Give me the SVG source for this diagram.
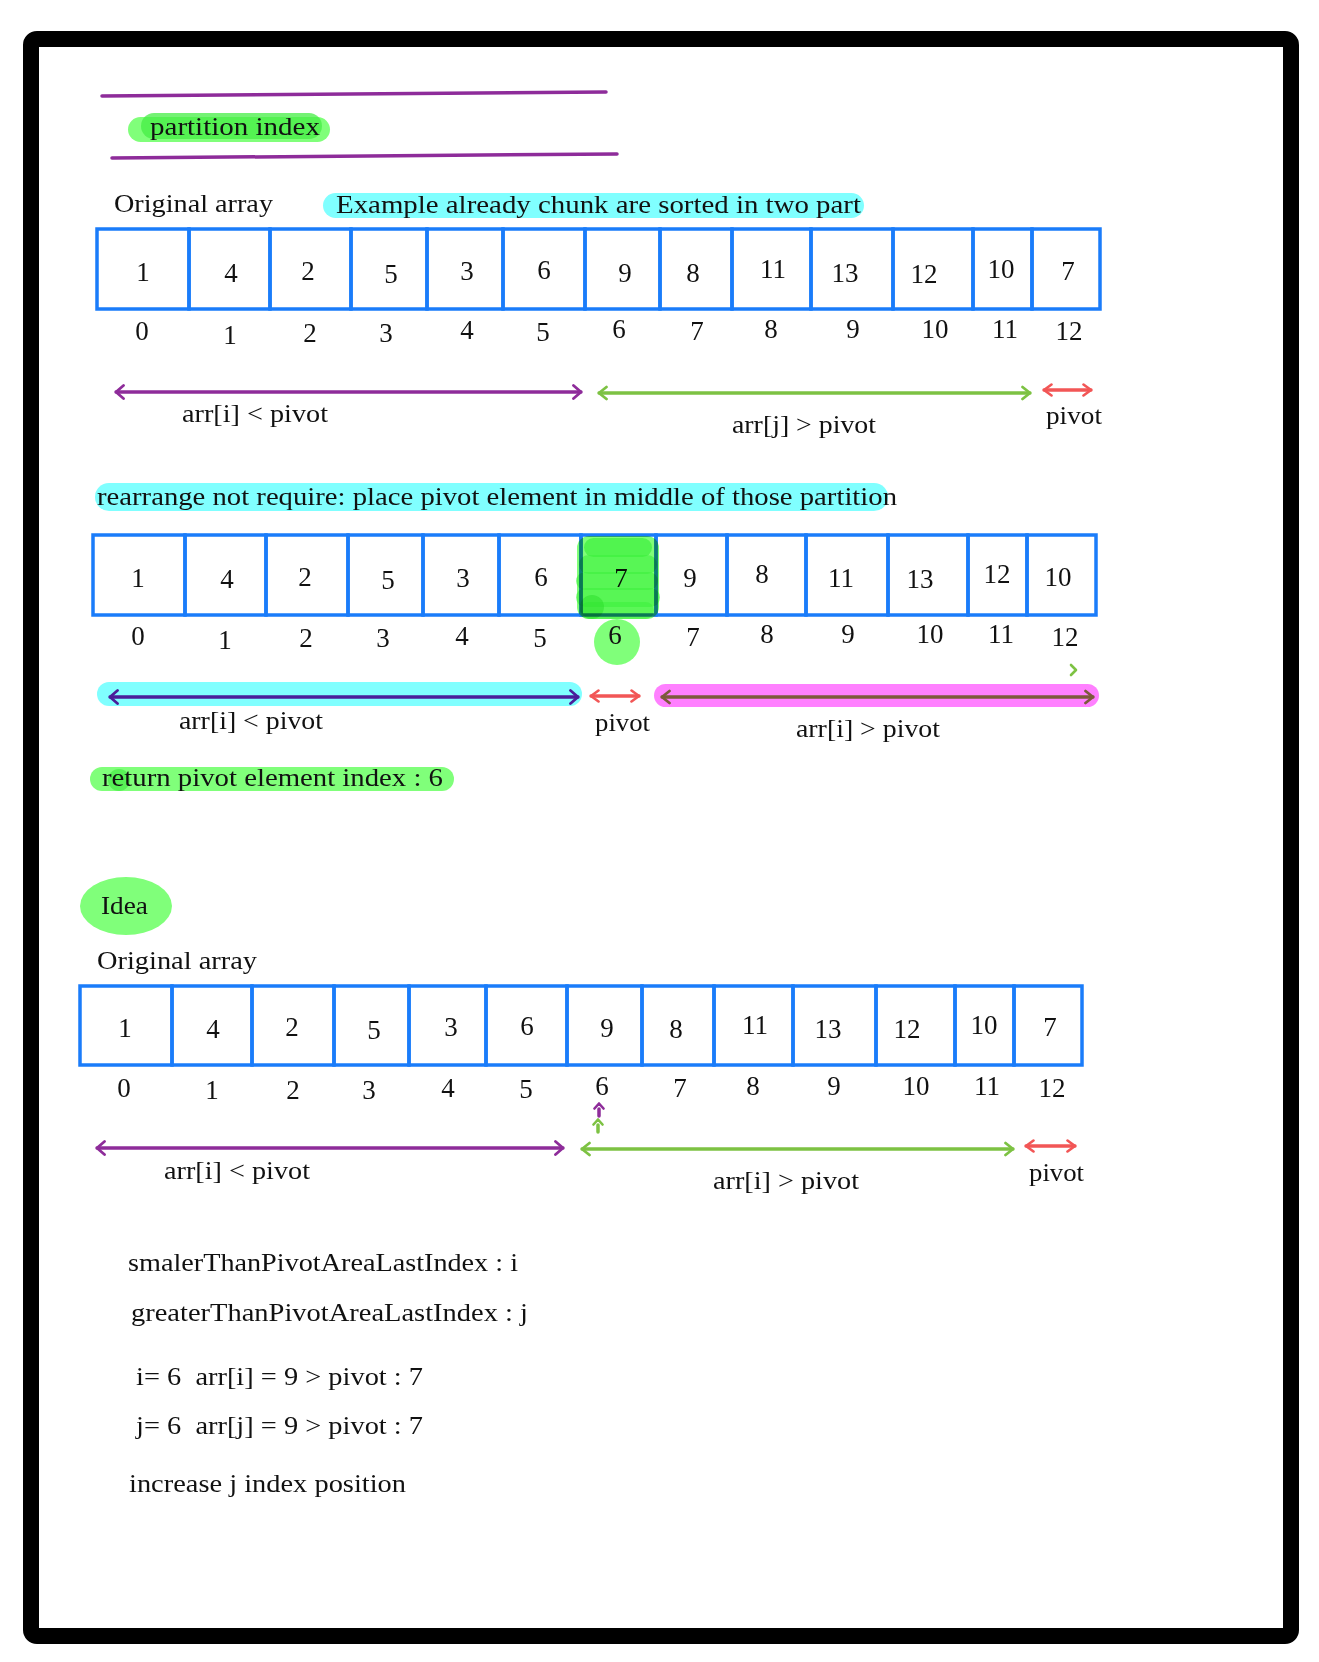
<svg xmlns="http://www.w3.org/2000/svg" width="1319" height="1662" viewBox="0 0 1319 1662">
<style>
.t{font-family:"Liberation Serif","DejaVu Serif",serif;font-size:26px;fill:#111;white-space:pre}
.d{font-family:"Liberation Serif","DejaVu Serif",serif;font-size:27px;fill:#111;text-anchor:middle}
.c{fill:none;stroke:#1A7CFA;stroke-width:3.5}
.hg{fill:#80FF7A}
.hc{fill:#80FFFF}
.hm{fill:#FF80FF}
.ln{fill:none;stroke-width:3.5;stroke-linecap:round}
</style>
<defs>
<marker id="mp" viewBox="0 0 10 16" refX="9" refY="8" markerWidth="10" markerHeight="16" markerUnits="userSpaceOnUse" orient="auto-start-reverse"><path d="M1.5,1.5 L9,8 L1.5,14.5" fill="none" stroke="#8E2C9A" stroke-width="2.8" stroke-linecap="round" stroke-linejoin="round"/></marker>
<marker id="mg" viewBox="0 0 10 16" refX="9" refY="8" markerWidth="10" markerHeight="16" markerUnits="userSpaceOnUse" orient="auto-start-reverse"><path d="M1.5,2 L9,8 L1.5,14" fill="none" stroke="#7DC243" stroke-width="2.8" stroke-linecap="round" stroke-linejoin="round"/></marker>
<marker id="mr" viewBox="0 0 10 14" refX="9" refY="7" markerWidth="10" markerHeight="14" markerUnits="userSpaceOnUse" orient="auto-start-reverse"><path d="M1.5,1.5 L9,7 L1.5,12.5" fill="none" stroke="#F25656" stroke-width="2.6" stroke-linecap="round" stroke-linejoin="round"/></marker>
<marker id="mi" viewBox="0 0 10 16" refX="9" refY="8" markerWidth="10" markerHeight="16" markerUnits="userSpaceOnUse" orient="auto-start-reverse"><path d="M1.5,1.5 L9,8 L1.5,14.5" fill="none" stroke="#4A1E9A" stroke-width="2.8" stroke-linecap="round" stroke-linejoin="round"/></marker>
<marker id="mb" viewBox="0 0 10 16" refX="9" refY="8" markerWidth="10" markerHeight="16" markerUnits="userSpaceOnUse" orient="auto-start-reverse"><path d="M1.5,2 L9,8 L1.5,14" fill="none" stroke="#7C5A3C" stroke-width="2.8" stroke-linecap="round" stroke-linejoin="round"/></marker>
<marker id="mps" viewBox="0 0 12 8" refX="6" refY="7" markerWidth="12" markerHeight="8" markerUnits="userSpaceOnUse" orient="0"><path d="M1.5,6.5 L6,1.5 L10.5,6.5" fill="none" stroke="#8E2C9A" stroke-width="2.6" stroke-linecap="round" stroke-linejoin="round"/></marker>
<marker id="mgs" viewBox="0 0 12 8" refX="6" refY="7" markerWidth="12" markerHeight="8" markerUnits="userSpaceOnUse" orient="0"><path d="M1.5,6.5 L6,1.5 L10.5,6.5" fill="none" stroke="#7DC243" stroke-width="2.6" stroke-linecap="round" stroke-linejoin="round"/></marker>
</defs>
<rect x="0" y="0" width="1319" height="1662" fill="#fff"/>
<rect id="frame" x="31" y="39" width="1260" height="1597" rx="6" fill="#fff" stroke="#000" stroke-width="16"/>

<g id="title">
<line x1="102" y1="96" x2="606" y2="92" stroke="#8E2C9A" stroke-width="3.5" stroke-linecap="round"/>
<line x1="112" y1="158" x2="617" y2="154" stroke="#8E2C9A" stroke-width="3.5" stroke-linecap="round"/>
<rect class="hg" x="128" y="117" width="202" height="25" rx="12.5"/>
<rect x="141" y="113" width="181" height="26" rx="13" fill="#45EE45" opacity="0.75"/>
<text class="t" x="150" y="135" textLength="170" lengthAdjust="spacingAndGlyphs">partition index</text>
</g>

<g id="label-original-1"><text class="t" x="114" y="212" textLength="159" lengthAdjust="spacingAndGlyphs">Original array</text></g>
<g id="label-example">
<rect class="hc" x="323" y="193" width="541" height="25" rx="12.5"/>
<text class="t" x="336" y="213" textLength="525" lengthAdjust="spacingAndGlyphs">Example already chunk are sorted in two part</text>
</g>

<g id="array1">
<g id="a1c0"><rect class="c" x="97" y="229" width="92" height="80"/><text class="d" x="143" y="281">1</text></g>
<g id="a1c1"><rect class="c" x="189" y="229" width="81" height="80"/><text class="d" x="231" y="282">4</text></g>
<g id="a1c2"><rect class="c" x="270" y="229" width="81" height="80"/><text class="d" x="308" y="280">2</text></g>
<g id="a1c3"><rect class="c" x="351" y="229" width="76" height="80"/><text class="d" x="391" y="283">5</text></g>
<g id="a1c4"><rect class="c" x="427" y="229" width="76" height="80"/><text class="d" x="467" y="280">3</text></g>
<g id="a1c5"><rect class="c" x="503" y="229" width="82" height="80"/><text class="d" x="544" y="279">6</text></g>
<g id="a1c6"><rect class="c" x="585" y="229" width="75" height="80"/><text class="d" x="625" y="282">9</text></g>
<g id="a1c7"><rect class="c" x="660" y="229" width="72" height="80"/><text class="d" x="693" y="282">8</text></g>
<g id="a1c8"><rect class="c" x="732" y="229" width="79" height="80"/><text class="d" x="773" y="278">11</text></g>
<g id="a1c9"><rect class="c" x="811" y="229" width="82" height="80"/><text class="d" x="845" y="282">13</text></g>
<g id="a1c10"><rect class="c" x="893" y="229" width="80" height="80"/><text class="d" x="924" y="283">12</text></g>
<g id="a1c11"><rect class="c" x="973" y="229" width="59" height="80"/><text class="d" x="1001" y="278">10</text></g>
<g id="a1c12"><rect class="c" x="1032" y="229" width="68" height="80"/><text class="d" x="1068" y="280">7</text></g>
</g>
<g id="index1">
<text class="d" x="142" y="340">0</text><text class="d" x="230" y="344">1</text><text class="d" x="310" y="342">2</text><text class="d" x="386" y="342">3</text><text class="d" x="467" y="339">4</text><text class="d" x="543" y="341">5</text><text class="d" x="619" y="338">6</text><text class="d" x="697" y="340">7</text><text class="d" x="771" y="338">8</text><text class="d" x="853" y="338">9</text><text class="d" x="935" y="338">10</text><text class="d" x="1005" y="338">11</text><text class="d" x="1069" y="340">12</text>
</g>
<g id="labels1">
<text class="t" x="182" y="422" textLength="146" lengthAdjust="spacingAndGlyphs">arr[i] &lt; pivot</text>
<text class="t" x="732" y="433" textLength="144" lengthAdjust="spacingAndGlyphs">arr[j] &gt; pivot</text>
<text class="t" x="1046" y="424" textLength="56" lengthAdjust="spacingAndGlyphs">pivot</text>
</g>

<g id="label-rearrange">
<rect class="hc" x="95" y="483" width="793" height="28" rx="14"/>
<text class="t" x="97" y="505" textLength="800" lengthAdjust="spacingAndGlyphs">rearrange not require: place pivot element in middle of those partition</text>
</g>

<g id="array2">
<g id="a2c0"><rect class="c" x="93" y="535" width="92" height="80"/><text class="d" x="138" y="587">1</text></g>
<g id="a2c1"><rect class="c" x="185" y="535" width="81" height="80"/><text class="d" x="227" y="588">4</text></g>
<g id="a2c2"><rect class="c" x="266" y="535" width="82" height="80"/><text class="d" x="305" y="586">2</text></g>
<g id="a2c3"><rect class="c" x="348" y="535" width="75" height="80"/><text class="d" x="388" y="589">5</text></g>
<g id="a2c4"><rect class="c" x="423" y="535" width="76" height="80"/><text class="d" x="463" y="587">3</text></g>
<g id="a2c5"><rect class="c" x="499" y="535" width="82" height="80"/><text class="d" x="541" y="586">6</text></g>
<g id="a2c6"><rect class="c" x="581" y="535" width="75" height="80"/><text class="d" x="621" y="587">7</text></g>
<g id="a2c7"><rect class="c" x="656" y="535" width="71" height="80"/><text class="d" x="690" y="587">9</text></g>
<g id="a2c8"><rect class="c" x="727" y="535" width="79" height="80"/><text class="d" x="762" y="583">8</text></g>
<g id="a2c9"><rect class="c" x="806" y="535" width="82" height="80"/><text class="d" x="841" y="587">11</text></g>
<g id="a2c10"><rect class="c" x="888" y="535" width="80" height="80"/><text class="d" x="920" y="588">13</text></g>
<g id="a2c11"><rect class="c" x="968" y="535" width="59" height="80"/><text class="d" x="997" y="583">12</text></g>
<g id="a2c12"><rect class="c" x="1027" y="535" width="69" height="80"/><text class="d" x="1058" y="586">10</text></g>
</g>
<g id="pivot-highlight" style="mix-blend-mode:multiply">
<rect x="577" y="536" width="82" height="83" rx="12" fill="#80FF78"/>
<rect x="584" y="538" width="68" height="19" rx="9.5" fill="#3DF03D" opacity="0.7"/>
<rect x="579" y="555" width="78" height="19" rx="9.5" fill="#3DF03D" opacity="0.6"/>
<rect x="576" y="572" width="82" height="18" rx="9" fill="#3DF03D" opacity="0.6"/>
<rect x="576" y="588" width="84" height="19" rx="9.5" fill="#3DF03D" opacity="0.6"/>
<rect x="580" y="602" width="74" height="17" rx="8.5" fill="#3DF03D" opacity="0.55"/>
<circle cx="592" cy="607" r="12" fill="#2ADD2A" opacity="0.5"/>
</g>
<g id="index2">
<circle cx="617" cy="642" r="23" class="hg"/>
<text class="d" x="138" y="645">0</text><text class="d" x="225" y="649">1</text><text class="d" x="306" y="647">2</text><text class="d" x="383" y="647">3</text><text class="d" x="462" y="645">4</text><text class="d" x="540" y="647">5</text><text class="d" x="615" y="644">6</text><text class="d" x="693" y="646">7</text><text class="d" x="767" y="643">8</text><text class="d" x="848" y="643">9</text><text class="d" x="930" y="643">10</text><text class="d" x="1001" y="643">11</text><text class="d" x="1065" y="646">12</text>
</g>
<g id="bars2">
<rect class="hc" x="97" y="682" width="485" height="24" rx="12"/>
<rect class="hm" x="654" y="684" width="445" height="23" rx="11.5"/>
</g>
<g id="labels2">
<text class="t" x="179" y="729" textLength="144" lengthAdjust="spacingAndGlyphs">arr[i] &lt; pivot</text>
<text class="t" x="595" y="731" textLength="55" lengthAdjust="spacingAndGlyphs">pivot</text>
<text class="t" x="796" y="737" textLength="144" lengthAdjust="spacingAndGlyphs">arr[i] &gt; pivot</text>
</g>
<g id="label-return">
<rect class="hg" x="90" y="767" width="364" height="24" rx="12"/>
<circle cx="119" cy="780" r="11" fill="#4DEE4D" opacity="0.8"/>
<text class="t" x="102" y="786" textLength="341" lengthAdjust="spacingAndGlyphs">return pivot element index : 6</text>
</g>

<g id="label-idea">
<ellipse class="hg" cx="126" cy="906" rx="46" ry="29"/>
<text class="t" x="101" y="914" textLength="47" lengthAdjust="spacingAndGlyphs">Idea</text>
</g>
<g id="label-original-3"><text class="t" x="97" y="969" textLength="160" lengthAdjust="spacingAndGlyphs">Original array</text></g>

<g id="array3">
<g id="a3c0"><rect class="c" x="80" y="986" width="92" height="79"/><text class="d" x="125" y="1037">1</text></g>
<g id="a3c1"><rect class="c" x="172" y="986" width="80" height="79"/><text class="d" x="213" y="1038">4</text></g>
<g id="a3c2"><rect class="c" x="252" y="986" width="82" height="79"/><text class="d" x="292" y="1036">2</text></g>
<g id="a3c3"><rect class="c" x="334" y="986" width="75" height="79"/><text class="d" x="374" y="1039">5</text></g>
<g id="a3c4"><rect class="c" x="409" y="986" width="77" height="79"/><text class="d" x="451" y="1036">3</text></g>
<g id="a3c5"><rect class="c" x="486" y="986" width="81" height="79"/><text class="d" x="527" y="1035">6</text></g>
<g id="a3c6"><rect class="c" x="567" y="986" width="75" height="79"/><text class="d" x="607" y="1037">9</text></g>
<g id="a3c7"><rect class="c" x="642" y="986" width="72" height="79"/><text class="d" x="676" y="1038">8</text></g>
<g id="a3c8"><rect class="c" x="714" y="986" width="79" height="79"/><text class="d" x="755" y="1034">11</text></g>
<g id="a3c9"><rect class="c" x="793" y="986" width="83" height="79"/><text class="d" x="828" y="1038">13</text></g>
<g id="a3c10"><rect class="c" x="876" y="986" width="79" height="79"/><text class="d" x="907" y="1038">12</text></g>
<g id="a3c11"><rect class="c" x="955" y="986" width="59" height="79"/><text class="d" x="984" y="1034">10</text></g>
<g id="a3c12"><rect class="c" x="1014" y="986" width="68" height="79"/><text class="d" x="1050" y="1036">7</text></g>
</g>
<g id="index3">
<text class="d" x="124" y="1097">0</text><text class="d" x="212" y="1099">1</text><text class="d" x="293" y="1099">2</text><text class="d" x="369" y="1099">3</text><text class="d" x="448" y="1097">4</text><text class="d" x="526" y="1098">5</text><text class="d" x="602" y="1095">6</text><text class="d" x="680" y="1097">7</text><text class="d" x="753" y="1095">8</text><text class="d" x="834" y="1095">9</text><text class="d" x="916" y="1095">10</text><text class="d" x="987" y="1095">11</text><text class="d" x="1052" y="1097">12</text>
</g>
<g id="labels3">
<text class="t" x="164" y="1179" textLength="146" lengthAdjust="spacingAndGlyphs">arr[i] &lt; pivot</text>
<text class="t" x="713" y="1189" textLength="146" lengthAdjust="spacingAndGlyphs">arr[i] &gt; pivot</text>
<text class="t" x="1029" y="1181" textLength="55" lengthAdjust="spacingAndGlyphs">pivot</text>
</g>

<g id="notes">
<text class="t" x="128" y="1271" textLength="390" lengthAdjust="spacingAndGlyphs">smalerThanPivotAreaLastIndex : i</text>
<text class="t" x="131" y="1321" textLength="397" lengthAdjust="spacingAndGlyphs">greaterThanPivotAreaLastIndex : j</text>
<text class="t" x="136" y="1385" textLength="287" lengthAdjust="spacingAndGlyphs">i= 6  arr[i] = 9 &gt; pivot : 7</text>
<text class="t" x="136" y="1434" textLength="287" lengthAdjust="spacingAndGlyphs">j= 6  arr[j] = 9 &gt; pivot : 7</text>
<text class="t" x="129" y="1492" textLength="277" lengthAdjust="spacingAndGlyphs">increase j index position</text>
</g>

<g id="connectors">
<line class="ln" stroke="#8E2C9A" x1="116" y1="392" x2="581" y2="392" marker-start="url(#mp)" marker-end="url(#mp)"/>
<line class="ln" stroke="#7DC243" x1="599" y1="393" x2="1030" y2="393" marker-start="url(#mg)" marker-end="url(#mg)"/>
<line class="ln" stroke="#F25656" stroke-width="3" x1="1044" y1="390" x2="1091" y2="390" marker-start="url(#mr)" marker-end="url(#mr)"/>
<line class="ln" stroke="#4A1E9A" x1="110" y1="697" x2="578" y2="697" marker-start="url(#mi)" marker-end="url(#mi)"/>
<line class="ln" stroke="#F25656" stroke-width="3" x1="591" y1="696" x2="639" y2="696" marker-start="url(#mr)" marker-end="url(#mr)"/>
<line class="ln" stroke="#7C5A3C" x1="662" y1="697" x2="1093" y2="697" marker-start="url(#mb)" marker-end="url(#mb)"/>
<path d="M1071,665 L1076,670 L1071,675" fill="none" stroke="#7DC243" stroke-width="2.6" stroke-linecap="round" stroke-linejoin="round"/>
<line class="ln" stroke="#8E2C9A" x1="97" y1="1148" x2="563" y2="1148" marker-start="url(#mp)" marker-end="url(#mp)"/>
<line class="ln" stroke="#7DC243" x1="582" y1="1149" x2="1013" y2="1149" marker-start="url(#mg)" marker-end="url(#mg)"/>
<line class="ln" stroke="#F25656" stroke-width="3" x1="1026" y1="1146" x2="1075" y2="1146" marker-start="url(#mr)" marker-end="url(#mr)"/>
<line class="ln" stroke="#8E2C9A" stroke-width="3" x1="599" y1="1116" x2="599" y2="1109" marker-end="url(#mps)"/>
<line class="ln" stroke="#7DC243" stroke-width="3" x1="598" y1="1132" x2="598" y2="1125" marker-end="url(#mgs)"/>
</g>
</svg>
